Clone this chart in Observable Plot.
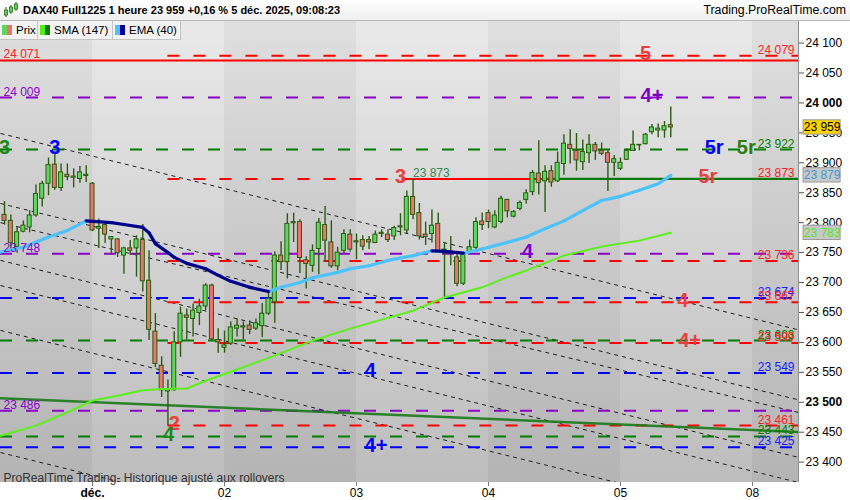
<!DOCTYPE html>
<html>
<head>
<meta charset="utf-8">
<script src="https://cdn.jsdelivr.net/npm/d3@7"></script>
<script src="https://cdn.jsdelivr.net/npm/@observablehq/plot@0.6"></script>
<style>
  body { margin: 0; background: #fff; font-family: "Liberation Sans", Arial, sans-serif; }
  #wrap { position: relative; width: 850px; height: 500px; overflow: hidden; }
  #head { position: relative; height: 20px; border-bottom: 1px solid #b8b8b8; background: linear-gradient(#ffffff, #efefef); }
  #head .title { position: absolute; left: 23px; top: 4px; font-size: 11px; font-weight: bold; color: #000; }
  #head .site { position: absolute; right: 4px; top: 3px; font-size: 12.3px; color: #000; }
  #head svg { position: absolute; left: 3px; top: 2px; }
  #bg { position: absolute; left: 0; top: 21px; width: 798px; height: 461px; background: linear-gradient(#e9e9e9, #bdbdbd); }
  #chart { position: absolute; left: 0; top: 21px; }
  #legend { position: absolute; left: 0; top: 21px; height: 19px; display: flex; }
  #legend div { box-sizing: border-box; height: 19px; border: 1px solid #c4c4c4; border-top: none; border-left: none; background: #f2f2f2; font-size: 11.5px; line-height: 18px; padding: 0 0 0 2px; display: flex; align-items: center; }
  #legend i { display: inline-block; width: 5px; height: 10px; }
  #legend span { margin-left: 4px; }
</style>
</head>
<body>
<div id="wrap">
  <div id="head">
    <svg width="16" height="16">
      <line x1="3" y1="5" x2="3" y2="15" stroke="#2d6a12"/><rect x="1.5" y="8" width="3" height="5" fill="#5fd75f" stroke="#2d6a12" stroke-width="0.8"/>
      <line x1="8" y1="3" x2="8" y2="12" stroke="#2d6a12"/><rect x="6.5" y="5" width="3" height="5" fill="#5fd75f" stroke="#2d6a12" stroke-width="0.8"/>
      <line x1="13" y1="0" x2="13" y2="9" stroke="#2d6a12"/><rect x="11.5" y="2" width="3" height="5" fill="#5fd75f" stroke="#2d6a12" stroke-width="0.8"/>
    </svg>
    <div class="title">DAX40 Full1225 1 heure 23 959 +0,16 % 5 déc. 2025, 09:08:23</div>
    <div class="site">Trading.ProRealTime.com</div>
  </div>
  <div id="bg"></div>
  <div id="chart"></div>
  <div id="legend">
    <div style="width:38px"><i style="background:#5fd75f"></i><i style="background:#e9756d"></i><span>Prix</span></div>
    <div style="width:75px"><i style="background:#55ee11"></i><i style="background:#117a11"></i><span>SMA (147)</span></div>
    <div style="width:68px"><i style="background:#4cc2ff"></i><i style="background:#000099"></i><span>EMA (40)</span></div>
  </div>
</div>
<script>
const fmt = d3.formatLocale({decimal: ',', thousands: ' ', grouping: [3]}).format(',d')

/* Hourly candles, 21 per trading day; slot 0 = 1 Dec 01:00 */
const firstSlot = -14
const open = [23813, 23803, 23759, 23785, 23792, 23812, 23840, 23865, 23897, 23858, 23880, 23875, 23873, 23878,
  23865, 23790, 23796, 23772, 23772, 23745, 23757, 23757, 23771, 23703, 23618, 23561, 23518, 23520, 23600, 23645, 23639, 23649, 23660, 23695, 23604,
  23591, 23598, 23623, 23625, 23628, 23623, 23627, 23648, 23667, 23745, 23734, 23799, 23801, 23737, 23728, 23756, 23796, 23767, 23727, 23753, 23780,
  23767, 23771, 23771, 23766, 23781, 23780, 23777, 23792, 23787, 23843, 23816, 23780, 23781, 23798, 23753, 23752, 23742, 23698, 23750, 23758, 23802,
  23816, 23792, 23801, 23838, 23810, 23823, 23838, 23851, 23882, 23869, 23886, 23869, 23898, 23930, 23920, 23901, 23916, 23930, 23920, 23916, 23900,
  23890, 23905, 23920, 23929, 23931, 23951, 23954, 23954, 23963]
const high = [23835, 23813, 23792, 23803, 23820, 23863, 23869, 23908, 23918, 23898, 23898, 23890, 23894, 23895,
  23867, 23806, 23801, 23777, 23773, 23759, 23770, 23778, 23797, 23753, 23648, 23576, 23537, 23618, 23659, 23656, 23664, 23672, 23698, 23697, 23623,
  23619, 23634, 23639, 23634, 23636, 23639, 23665, 23683, 23751, 23768, 23815, 23816, 23805, 23743, 23763, 23807, 23827, 23803, 23759, 23788, 23788,
  23781, 23778, 23777, 23786, 23788, 23788, 23794, 23815, 23853, 23873, 23832, 23801, 23821, 23816, 23767, 23777, 23747, 23748, 23771, 23808, 23816,
  23821, 23820, 23844, 23838, 23820, 23836, 23855, 23887, 23937, 23895, 23895, 23918, 23947, 23955, 23949, 23938, 23947, 23934, 23933, 23921, 23912,
  23908, 23923, 23953, 23930, 23949, 23964, 23965, 23969, 23993]
const low = [23796, 23752, 23749, 23783, 23783, 23809, 23826, 23845, 23854, 23852, 23870, 23858, 23866, 23867,
  23785, 23757, 23765, 23746, 23742, 23714, 23745, 23709, 23684, 23603, 23558, 23508, 23461, 23519, 23575, 23604, 23609, 23628, 23653, 23603, 23582,
  23582, 23595, 23609, 23604, 23613, 23620, 23608, 23645, 23632, 23720, 23706, 23767, 23715, 23689, 23717, 23713, 23734, 23724, 23720, 23748, 23751,
  23738, 23753, 23755, 23765, 23775, 23767, 23770, 23778, 23782, 23805, 23771, 23762, 23766, 23751, 23675, 23728, 23693, 23695, 23747, 23754, 23787,
  23790, 23790, 23798, 23808, 23808, 23820, 23831, 23845, 23846, 23817, 23859, 23867, 23879, 23898, 23886, 23887, 23899, 23904, 23912, 23852, 23877,
  23887, 23904, 23919, 23920, 23930, 23947, 23942, 23941, 23942]
const close = [23803, 23766, 23784, 23795, 23812, 23848, 23865, 23896, 23858, 23884, 23876, 23877, 23884, 23880,
  23787, 23793, 23780, 23776, 23749, 23757, 23753, 23772, 23702, 23621, 23564, 23520, 23522, 23600, 23648, 23641, 23653, 23660, 23695, 23605, 23600,
  23595, 23625, 23628, 23627, 23621, 23632, 23648, 23673, 23745, 23734, 23798, 23801, 23741, 23731, 23753, 23800, 23770, 23727, 23750, 23781, 23755,
  23769, 23760, 23767, 23780, 23783, 23771, 23791, 23794, 23843, 23813, 23777, 23776, 23795, 23752, 23755, 23750, 23698, 23746, 23759, 23801, 23796,
  23801, 23812, 23840, 23819, 23818, 23833, 23849, 23883, 23866, 23885, 23867, 23900, 23932, 23923, 23904, 23918, 23930, 23919, 23915, 23900, 23906,
  23900, 23920, 23930, 23930, 23947, 23959, 23957, 23961, 23959]

/* Moving averages */
const emaSlot = [-15, -11, -7, -4, -1, 3, 5, 8, 9, 10, 12, 13, 15, 18, 20, 22, 25, 28, 30, 33, 35, 39, 41, 44, 47, 51, 54, 56, 59, 62, 66, 69, 72, 75, 78, 81, 84, 87, 90, 92]
const emaValue = [23750, 23759, 23776, 23787, 23803, 23800, 23797, 23792, 23783, 23765, 23750, 23742, 23732, 23723, 23712, 23702, 23692, 23685, 23692, 23700,
  23708, 23717, 23723, 23728, 23737, 23745, 23753, 23752, 23749, 23756, 23767, 23776, 23790, 23803, 23820, 23837, 23844, 23854, 23865, 23879]
const smaSlot = [-15, -9, -4, 0, 4, 8, 11, 15, 18, 22, 29, 35, 41, 46, 51, 56, 62, 66, 69, 75, 81, 87, 92]
const smaValue = [23443, 23461, 23483, 23503, 23511, 23520, 23522, 23523, 23536, 23551, 23578, 23603, 23623, 23638, 23653, 23675, 23692, 23709, 23720, 23745, 23760, 23770, 23783]

/* Levels */
const redLevels = [24079, 23736, 23667, 23599, 23461]
const purpleLevels = [24009, 23748, 23486]
const greenLevels = [23922, 23603, 23443]
const blueLevels = [23674, 23549, 23425]
const redSolid = 24071
const level3 = 23873
const redFrom = 12      // candle of the low
const level3Break = 51  // candle of the "3" high
const level3Green = 72

/* Dotted channel lines: price at left edge and right edge */
const chanLeft = [23949, 23832, 23800, 23737, 23695, 23620, 23416]
const chanRight = [23621, 23504, 23483, 23408, 23366, 23291, 23088]
const trendSlot = [-15, 113]
const trendValue = [23507, 23450]

const rightLabels = [
  {p: 24079, col: '#ff2020'}, {p: 23922, col: '#008000'}, {p: 23873, col: '#ff2020'}, {p: 23736, col: '#ff2020'},
  {p: 23674, col: '#1a1aff'}, {p: 23667, col: '#ff2020'}, {p: 23603, col: '#008000'}, {p: 23599, col: '#ff2020'},
  {p: 23549, col: '#1a1aff'}, {p: 23461, col: '#ff2020'}, {p: 23443, col: '#008000'}, {p: 23425, col: '#1a1aff'},
]
const leftLabels = [{p: 24071, col: '#ff2020'}, {p: 24009, col: '#8a00c8'}, {p: 23748, col: '#8a00c8'}, {p: 23486, col: '#8a00c8'}]

const marks3 = [
  {t: -14, p: 23922, s: '3', col: '#1a8a1a'}, {t: -6, p: 23922, s: '3', col: '#0000ff'},
  {t: 88, p: 24079, s: '5', col: '#e84040'}, {t: 89, p: 24009, s: '4+', col: '#7b00c8'},
  {t: 98.9, p: 23922, s: '5r', col: '#0000ff'}, {t: 104, p: 23922, s: '5r', col: '#2e7d0e'},
  {t: 49, p: 23873, s: '3', col: '#e84040'}, {t: 97.9, p: 23873, s: '5r', col: '#e84040'},
  {t: 69.2, p: 23748, s: '4', col: '#7b00c8'}, {t: 93.9, p: 23667, s: '4', col: '#e84040'},
  {t: 95, p: 23599, s: '4+', col: '#e84040'}, {t: 44.2, p: 23549, s: '4', col: '#0000ff'},
  {t: 13, p: 23461, s: '2', col: '#e84040'}, {t: 12.1, p: 23443, s: '4', col: '#1a8a1a'},
  {t: 45.1, p: 23425, s: '4+', col: '#0000ff'},
]

const lastValues = [
  {p: 23959, fill: '#ffd200', ink: '#000000'},
  {p: 23879, fill: '#c8c8c8', ink: '#3d9ad6'},
  {p: 23783, fill: '#c8c8c8', ink: '#55e61a'},
]

const yTicks = [23400, 23450, 23500, 23550, 23600, 23650, 23700, 23750, 23800, 23850, 23900, 23950, 24000, 24050, 24100]
const yBold = [23500, 24000]
const dayTicks = [0, 21, 42, 63, 84, 105]
const dayLabels = ['déc.', '02', '03', '04', '05', '08']
const darkDays = [-21, 21, 63, 105]

const xMin = -14.64, xMax = 112.32
const yMin = 23366, yMax = 24136

const candles = open.map((o, i) => ({t: firstSlot + i, o, h: high[i], l: low[i], c: close[i]}))
const ema = emaSlot.map((t, i) => ({t, v: emaValue[i]}))
const emaSegs = []
for (let i = 0; i < ema.length - 1; i++) {
  const up = ema[i + 1].v >= ema[i].v
  emaSegs.push({...ema[i], seg: i, up}, {...ema[i + 1], seg: i, up})
}
const sma = smaSlot.map((t, i) => ({t, v: smaValue[i]}))
const trend = trendSlot.map((t, i) => ({t, v: trendValue[i]}))

const wick = '#2b5c10'
const dash = '12,14'

const chart = Plot.plot({
  width: 850,
  height: 479,
  marginTop: 0,
  marginBottom: 18,
  marginLeft: 0,
  marginRight: 52,
  x: {domain: [xMin, xMax], axis: null, label: null},
  y: {domain: [yMin, yMax], axis: null, label: null},
  color: {type: 'identity'},
  style: {background: 'transparent', fontFamily: "'Liberation Sans', Arial, sans-serif", fontSize: '12px', color: '#000', overflow: 'visible'},
  marks: [
    Plot.rect(darkDays, {x1: d => d, x2: d => d + 21, fill: '#000', fillOpacity: 0.045, clip: true}),
    Plot.link(chanLeft, {x1: () => xMin, x2: () => xMax, y1: d => d, y2: (d, i) => chanRight[i], stroke: '#1e1e1e', strokeWidth: 1, strokeDasharray: '4,4', clip: true}),

    Plot.ruleY(purpleLevels, {stroke: '#8a00c8', strokeWidth: 2, strokeDasharray: dash}),
    Plot.ruleY(greenLevels, {stroke: '#007d00', strokeWidth: 2, strokeDasharray: dash}),
    Plot.ruleY(blueLevels, {stroke: '#0000ff', strokeWidth: 2, strokeDasharray: dash}),
    Plot.ruleY(redLevels, {x1: () => redFrom, x2: () => xMax, stroke: '#ff0000', strokeWidth: 2, strokeDasharray: dash}),
    Plot.ruleY([level3], {x1: () => redFrom, x2: () => level3Break, stroke: '#ff0000', strokeWidth: 2, strokeDasharray: dash}),
    Plot.ruleY([level3], {x1: () => level3Break, x2: () => level3Green + 2, stroke: '#ff0000', strokeWidth: 2}),
    Plot.ruleY([level3], {x1: () => level3Green, x2: () => xMax, stroke: '#0b7a0b', strokeWidth: 2.2}),
    Plot.ruleY([redSolid], {stroke: '#ff0000', strokeWidth: 2}),

    Plot.line(trend, {x: 't', y: 'v', stroke: '#1a7a1a', strokeWidth: 2.5, strokeOpacity: 0.9, clip: true}),

    Plot.ruleX(candles, {x: 't', y1: 'l', y2: 'h', stroke: wick, strokeWidth: 1.4}),
    Plot.rect(candles, {x1: d => d.t - 0.32, x2: d => d.t + 0.32, y1: 'o', y2: 'c', fill: d => d.c >= d.o ? '#5fd75f' : '#e9756d', stroke: wick, strokeWidth: 1}),

    Plot.line(sma, {x: 't', y: 'v', stroke: '#5cf01a', strokeWidth: 2, clip: true}),
    Plot.line(emaSegs.filter(d => d.up), {x: 't', y: 'v', z: 'seg', stroke: '#4cc2ff', strokeWidth: 3.2, strokeLinecap: 'round', clip: true}),
    Plot.line(emaSegs.filter(d => !d.up), {x: 't', y: 'v', z: 'seg', stroke: '#00008b', strokeWidth: 3.2, strokeLinecap: 'round', clip: true}),

    Plot.text(rightLabels, {frameAnchor: 'right', y: 'p', text: d => fmt(d.p), fill: 'col', textAnchor: 'end', lineAnchor: 'bottom', dx: -4, dy: -2, fontSize: 12}),
    Plot.text(leftLabels, {frameAnchor: 'left', y: 'p', text: d => fmt(d.p), fill: 'col', textAnchor: 'start', lineAnchor: 'bottom', dx: 3, dy: -2, fontSize: 12}),
    Plot.text([level3], {x: () => 53.9, y: d => d, text: d => fmt(d), fill: '#2e8b57', lineAnchor: 'bottom', dy: -2, fontSize: 12}),
    Plot.text(marks3, {x: 't', y: 'p', text: 's', fill: 'col', fontSize: 20, fontWeight: 'bold', dy: -2}),

    Plot.text(['ProRealTime Trading- Historique ajusté aux rollovers'], {frameAnchor: 'bottom-left', dx: 3, dy: -1, lineAnchor: 'bottom', fill: '#333', fontSize: 12}),

    Plot.ruleX([xMax], {stroke: '#8c8c8c'}),
    Plot.axisY(yTicks.filter(d => !yBold.includes(d)), {anchor: 'right', label: null, tickSize: 5, tickPadding: 2, tickFormat: fmt, fontSize: 12, stroke: '#555'}),
    Plot.axisY(yBold, {anchor: 'right', label: null, tickSize: 5, tickPadding: 2, tickFormat: fmt, fontSize: 12, fontWeight: 'bold', stroke: '#555'}),
    Plot.axisX(dayTicks.slice(1), {anchor: 'bottom', label: null, tickSize: 4, tickPadding: 2, tickFormat: d => dayLabels[dayTicks.indexOf(d)], fontSize: 12, stroke: '#777'}),
    Plot.axisX(dayTicks.slice(0, 1), {anchor: 'bottom', label: null, tickSize: 4, tickPadding: 2, tickFormat: d => dayLabels[dayTicks.indexOf(d)], fontSize: 12, fontWeight: 'bold', stroke: '#777'}),

    Plot.rect(lastValues, {x1: () => xMax + 0.8, x2: () => xMax + 6.7, y1: d => d.p - 12, y2: d => d.p + 12, fill: 'fill', stroke: '#9a9a9a'}),
    Plot.text(lastValues, {x: () => xMax + 3.75, y: 'p', text: d => fmt(d.p), fill: 'ink', fontSize: 12}),
  ],
})

d3.select('#chart').append(() => chart)
</script>
</body>
</html>
